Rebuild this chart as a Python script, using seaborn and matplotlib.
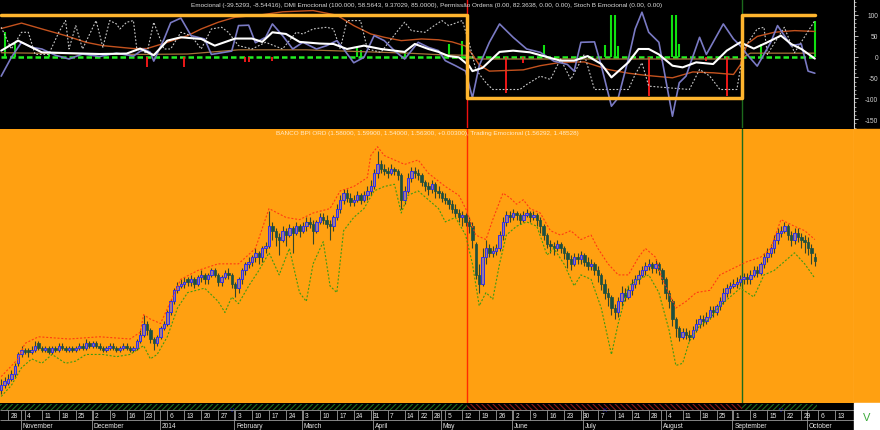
import numpy as np
import pandas as pd
import matplotlib
matplotlib.use("Agg")
import matplotlib.pyplot as plt
import matplotlib.patches as mpatches
import seaborn as sns

# ---------------- data ----------------
# BANCO BPI ORD, daily candles from 2013-10-24 to 2014-10-03
opens = [0.98, 1.00, 1.01, 1.03, 1.05, 1.10, 1.14, 1.16, 1.16, 1.15,
         1.16, 1.19, 1.17, 1.16, 1.17, 1.15, 1.17, 1.16, 1.18, 1.17,
         1.16, 1.17, 1.16, 1.17, 1.18, 1.17, 1.19, 1.18, 1.19, 1.18,
         1.17, 1.16, 1.17, 1.18, 1.17, 1.16, 1.17, 1.18, 1.17, 1.16,
         1.17, 1.20, 1.23, 1.28, 1.25, 1.21, 1.19, 1.22, 1.26, 1.28,
         1.33, 1.38, 1.43, 1.45, 1.46, 1.48, 1.47, 1.48, 1.46, 1.49,
         1.50, 1.48, 1.50, 1.52, 1.50, 1.47, 1.49, 1.51, 1.50, 1.46,
         1.44, 1.48, 1.52, 1.55, 1.56, 1.58, 1.60, 1.58, 1.62, 1.63,
         1.72, 1.70, 1.67, 1.66, 1.70, 1.68, 1.71, 1.69, 1.72, 1.70,
         1.72, 1.74, 1.73, 1.70, 1.74, 1.76, 1.75, 1.73, 1.72, 1.76,
         1.80, 1.84, 1.87, 1.85, 1.83, 1.84, 1.86, 1.84, 1.86, 1.88,
         1.90, 1.96, 2.00, 1.98, 1.97, 1.96, 1.98, 1.97, 1.95, 1.84,
         1.88, 1.94, 1.97, 1.96, 1.95, 1.92, 1.90, 1.89, 1.91, 1.88,
         1.87, 1.85, 1.84, 1.82, 1.80, 1.78, 1.76, 1.77, 1.74, 1.72,
         1.64, 1.50, 1.46, 1.58, 1.62, 1.60, 1.61, 1.62, 1.68, 1.74,
         1.77, 1.76, 1.78, 1.77, 1.75, 1.77, 1.78, 1.76, 1.77, 1.75,
         1.72, 1.68, 1.64, 1.63, 1.62, 1.64, 1.62, 1.60, 1.57, 1.55,
         1.58, 1.57, 1.59, 1.56, 1.54, 1.55, 1.52, 1.50, 1.46, 1.42,
         1.40, 1.35, 1.33, 1.38, 1.42, 1.40, 1.43, 1.46, 1.48, 1.50,
         1.52, 1.54, 1.55, 1.53, 1.55, 1.52, 1.48, 1.42, 1.38, 1.30,
         1.26, 1.22, 1.24, 1.23, 1.22, 1.25, 1.28, 1.30, 1.29, 1.31,
         1.34, 1.33, 1.36, 1.38, 1.42, 1.44, 1.45, 1.46, 1.47, 1.48,
         1.49, 1.48, 1.50, 1.52, 1.51, 1.55, 1.58, 1.60, 1.62, 1.66,
         1.69, 1.70, 1.72, 1.68, 1.66, 1.69, 1.67, 1.66, 1.65, 1.62, 1.58]
highs = [1.03, 1.04, 1.05, 1.07, 1.10, 1.15, 1.18, 1.17, 1.17, 1.18,
         1.20, 1.20, 1.18, 1.18, 1.18, 1.18, 1.18, 1.19, 1.19, 1.18,
         1.18, 1.18, 1.18, 1.19, 1.19, 1.21, 1.20, 1.20, 1.20, 1.19,
         1.18, 1.18, 1.19, 1.19, 1.18, 1.18, 1.19, 1.19, 1.18, 1.18,
         1.21, 1.25, 1.32, 1.29, 1.26, 1.22, 1.23, 1.27, 1.29, 1.34,
         1.39, 1.44, 1.47, 1.48, 1.49, 1.49, 1.50, 1.49, 1.50, 1.52,
         1.51, 1.51, 1.53, 1.53, 1.51, 1.50, 1.52, 1.53, 1.51, 1.47,
         1.49, 1.53, 1.56, 1.58, 1.59, 1.62, 1.61, 1.63, 1.65, 1.79,
         1.74, 1.71, 1.69, 1.72, 1.71, 1.73, 1.72, 1.74, 1.73, 1.74,
         1.76, 1.76, 1.75, 1.75, 1.78, 1.78, 1.77, 1.75, 1.77, 1.82,
         1.86, 1.89, 1.89, 1.87, 1.86, 1.88, 1.87, 1.88, 1.90, 1.93,
         1.98, 2.06, 2.02, 2.00, 1.99, 2.00, 1.99, 1.98, 1.96, 1.90,
         1.96, 1.99, 1.99, 1.98, 1.96, 1.93, 1.92, 1.93, 1.92, 1.90,
         1.88, 1.87, 1.85, 1.84, 1.82, 1.80, 1.79, 1.78, 1.76, 1.74,
         1.65, 1.55, 1.62, 1.66, 1.64, 1.63, 1.64, 1.70, 1.76, 1.79,
         1.79, 1.80, 1.79, 1.78, 1.79, 1.80, 1.79, 1.79, 1.78, 1.76,
         1.73, 1.69, 1.66, 1.65, 1.66, 1.65, 1.63, 1.61, 1.59, 1.60,
         1.60, 1.61, 1.60, 1.58, 1.57, 1.56, 1.54, 1.51, 1.48, 1.44,
         1.41, 1.37, 1.40, 1.45, 1.44, 1.45, 1.48, 1.50, 1.52, 1.54,
         1.56, 1.57, 1.56, 1.57, 1.56, 1.53, 1.49, 1.43, 1.39, 1.31,
         1.27, 1.26, 1.26, 1.25, 1.27, 1.30, 1.32, 1.32, 1.33, 1.36,
         1.36, 1.37, 1.40, 1.44, 1.46, 1.47, 1.48, 1.49, 1.50, 1.51,
         1.51, 1.52, 1.54, 1.54, 1.56, 1.60, 1.62, 1.64, 1.68, 1.71,
         1.72, 1.74, 1.73, 1.70, 1.71, 1.71, 1.69, 1.68, 1.67, 1.64, 1.599]
lows = [0.96, 0.99, 1.00, 1.02, 1.04, 1.09, 1.13, 1.14, 1.13, 1.14,
        1.15, 1.16, 1.15, 1.15, 1.14, 1.14, 1.15, 1.15, 1.16, 1.15,
        1.15, 1.15, 1.15, 1.16, 1.16, 1.16, 1.17, 1.17, 1.17, 1.16,
        1.15, 1.15, 1.16, 1.16, 1.15, 1.15, 1.16, 1.16, 1.15, 1.15,
        1.16, 1.19, 1.22, 1.23, 1.19, 1.16, 1.18, 1.21, 1.25, 1.27,
        1.32, 1.37, 1.42, 1.44, 1.44, 1.45, 1.45, 1.44, 1.45, 1.47,
        1.46, 1.46, 1.49, 1.49, 1.45, 1.45, 1.48, 1.48, 1.44, 1.40,
        1.42, 1.46, 1.50, 1.53, 1.54, 1.56, 1.55, 1.56, 1.60, 1.62,
        1.66, 1.63, 1.59, 1.65, 1.63, 1.67, 1.60, 1.68, 1.67, 1.69,
        1.70, 1.71, 1.64, 1.69, 1.73, 1.73, 1.71, 1.66, 1.70, 1.75,
        1.78, 1.82, 1.83, 1.81, 1.81, 1.83, 1.82, 1.83, 1.84, 1.86,
        1.89, 1.94, 1.96, 1.95, 1.94, 1.95, 1.95, 1.93, 1.80, 1.82,
        1.87, 1.92, 1.94, 1.93, 1.90, 1.88, 1.86, 1.87, 1.85, 1.85,
        1.83, 1.82, 1.80, 1.78, 1.76, 1.74, 1.72, 1.72, 1.69, 1.62,
        1.48, 1.42, 1.45, 1.55, 1.58, 1.58, 1.59, 1.61, 1.66, 1.72,
        1.74, 1.75, 1.75, 1.73, 1.74, 1.76, 1.74, 1.75, 1.72, 1.69,
        1.66, 1.62, 1.60, 1.59, 1.61, 1.60, 1.57, 1.53, 1.52, 1.54,
        1.55, 1.55, 1.54, 1.52, 1.52, 1.50, 1.47, 1.43, 1.39, 1.36,
        1.32, 1.30, 1.31, 1.36, 1.38, 1.39, 1.41, 1.44, 1.46, 1.49,
        1.50, 1.52, 1.51, 1.51, 1.50, 1.46, 1.39, 1.35, 1.27, 1.22,
        1.20, 1.21, 1.21, 1.20, 1.21, 1.24, 1.26, 1.27, 1.28, 1.30,
        1.31, 1.32, 1.34, 1.37, 1.40, 1.42, 1.44, 1.44, 1.45, 1.46,
        1.46, 1.46, 1.49, 1.49, 1.50, 1.53, 1.56, 1.58, 1.60, 1.64,
        1.67, 1.69, 1.66, 1.63, 1.64, 1.65, 1.62, 1.60, 1.59, 1.55, 1.54]
closes = [1.00, 1.02, 1.03, 1.05, 1.09, 1.14, 1.16, 1.15, 1.15, 1.16,
          1.18, 1.17, 1.16, 1.17, 1.15, 1.17, 1.16, 1.18, 1.17, 1.16,
          1.17, 1.16, 1.17, 1.18, 1.17, 1.19, 1.18, 1.19, 1.18, 1.17,
          1.16, 1.17, 1.18, 1.17, 1.16, 1.17, 1.18, 1.17, 1.16, 1.17,
          1.20, 1.23, 1.28, 1.25, 1.21, 1.19, 1.22, 1.26, 1.28, 1.33,
          1.38, 1.43, 1.45, 1.46, 1.47, 1.47, 1.48, 1.46, 1.49, 1.50,
          1.48, 1.50, 1.52, 1.50, 1.47, 1.49, 1.51, 1.50, 1.46, 1.44,
          1.48, 1.52, 1.55, 1.56, 1.58, 1.60, 1.58, 1.62, 1.63, 1.72,
          1.70, 1.67, 1.66, 1.70, 1.68, 1.71, 1.69, 1.72, 1.70, 1.72,
          1.74, 1.73, 1.70, 1.74, 1.76, 1.75, 1.73, 1.72, 1.76, 1.80,
          1.84, 1.87, 1.85, 1.83, 1.84, 1.86, 1.84, 1.86, 1.88, 1.90,
          1.96, 2.00, 1.98, 1.97, 1.96, 1.98, 1.97, 1.95, 1.84, 1.88,
          1.94, 1.97, 1.96, 1.95, 1.92, 1.90, 1.89, 1.91, 1.88, 1.87,
          1.85, 1.84, 1.82, 1.80, 1.78, 1.76, 1.77, 1.74, 1.72, 1.66,
          1.50, 1.46, 1.58, 1.62, 1.60, 1.61, 1.62, 1.68, 1.74, 1.77,
          1.76, 1.78, 1.77, 1.75, 1.77, 1.78, 1.76, 1.77, 1.75, 1.72,
          1.68, 1.64, 1.63, 1.62, 1.64, 1.62, 1.60, 1.57, 1.55, 1.58,
          1.57, 1.59, 1.56, 1.54, 1.55, 1.52, 1.50, 1.46, 1.42, 1.40,
          1.35, 1.33, 1.38, 1.42, 1.40, 1.43, 1.46, 1.48, 1.50, 1.52,
          1.54, 1.55, 1.53, 1.55, 1.52, 1.48, 1.42, 1.38, 1.30, 1.26,
          1.22, 1.24, 1.23, 1.22, 1.25, 1.28, 1.30, 1.29, 1.31, 1.34,
          1.33, 1.36, 1.38, 1.42, 1.44, 1.45, 1.46, 1.47, 1.48, 1.49,
          1.48, 1.50, 1.52, 1.51, 1.55, 1.58, 1.60, 1.62, 1.66, 1.69,
          1.70, 1.72, 1.68, 1.66, 1.69, 1.67, 1.66, 1.65, 1.62, 1.60, 1.563]

# Trading Emocional bands (upper red, lower green), by bar index
band_up_days = [0, 5, 7, 11, 20, 29, 38, 41, 42, 44, 47, 50, 53, 58, 64, 70, 75, 79,
                84, 88, 92, 97, 100, 104, 108, 109, 111, 113, 116, 119, 121, 123, 126,
                131, 135, 137, 140, 143, 145, 148, 150, 152, 154, 156, 159, 162, 165,
                168, 171, 174, 176, 179, 182, 185, 188, 190, 193, 195, 199, 202, 205,
                209, 212, 216, 220, 224, 227, 230, 234, 237, 240]
band_up = [1.04, 1.12, 1.19, 1.22, 1.21, 1.22, 1.21, 1.24, 1.32, 1.30, 1.28, 1.38, 1.48,
           1.52, 1.55, 1.55, 1.62, 1.80, 1.76, 1.75, 1.78, 1.80, 1.88, 1.90, 1.94, 2.04,
           2.08, 2.04, 2.02, 2.00, 2.01, 2.02, 1.96, 1.90, 1.86, 1.80, 1.68, 1.66, 1.75,
           1.87, 1.85, 1.82, 1.84, 1.80, 1.78, 1.70, 1.68, 1.70, 1.66, 1.68, 1.62, 1.55,
           1.50, 1.50, 1.58, 1.62, 1.58, 1.48, 1.35, 1.38, 1.42, 1.43, 1.50, 1.53, 1.56,
           1.58, 1.62, 1.75, 1.72, 1.70, 1.66]
band_dn_days = [0, 3, 6, 9, 12, 15, 19, 22, 25, 30, 34, 38, 42, 44, 46, 49, 52, 55, 60,
                64, 66, 68, 70, 73, 76, 79, 82, 85, 88, 90, 92, 95, 97, 99, 101, 104,
                107, 110, 113, 116, 118, 120, 123, 126, 129, 131, 134, 137, 139, 141,
                143, 145, 147, 149, 152, 155, 158, 161, 163, 166, 169, 171, 174, 177,
                180, 182, 185, 188, 191, 194, 197, 199, 201, 203, 206, 209, 212, 215,
                218, 220, 222, 225, 228, 231, 234, 237, 240]
band_dn = [0.95, 1.00, 1.08, 1.12, 1.10, 1.14, 1.10, 1.11, 1.14, 1.14, 1.13, 1.14, 1.18,
           1.12, 1.14, 1.22, 1.35, 1.42, 1.44, 1.38, 1.33, 1.40, 1.37, 1.45, 1.52, 1.60,
           1.50, 1.62, 1.42, 1.38, 1.55, 1.65, 1.45, 1.42, 1.70, 1.76, 1.80, 1.88, 1.90,
           1.91, 1.78, 1.86, 1.88, 1.84, 1.80, 1.74, 1.76, 1.68, 1.55, 1.36, 1.42, 1.39,
           1.55, 1.68, 1.72, 1.74, 1.72, 1.59, 1.62, 1.55, 1.45, 1.50, 1.48, 1.35, 1.14,
           1.28, 1.45, 1.48, 1.50, 1.42, 1.25, 1.09, 1.10, 1.20, 1.27, 1.30, 1.36, 1.40,
           1.44, 1.42, 1.40, 1.50, 1.52, 1.56, 1.60, 1.55, 1.485]

# Emocional (lavender)
emo_days = [0, 3, 6, 9, 12, 16, 20, 24, 29, 34, 39, 42, 44, 45, 48, 50, 53, 56, 60, 62,
            68, 70, 73, 75, 78, 80, 83, 86, 89, 93, 96, 99, 101, 104, 107, 110, 113,
            116, 119, 123, 126, 129, 131, 134, 137, 139, 141, 144, 147, 151, 155, 159,
            163, 167, 169, 171, 175, 177, 180, 182, 185, 187, 189, 191, 194, 198, 200,
            202, 206, 208, 213, 216, 218, 220, 223, 227, 229, 233, 236, 238, 240]
emo_vals = [-47, -2, 34, 22, 18, 3, -6, 6, 0, 8, 1, 18, 10, -11, 41, 81, 92, 50, 42, 5,
            13, 74, 75, 33, 46, 78, 50, 18, 34, 18, 26, 38, 18, -15, -2, 50, 38, 14, -6,
            34, 22, 14, -10, -22, -35, -99, -22, 34, 78, 46, 18, 10, -11, -19, -35, 34,
            35, -22, -119, -99, -6, 66, 106, 58, 34, -143, -63, -47, 46, 5, 78, 42, 26, 5,
            -23, 34, 74, 26, 30, -35, -40]
# Emocional signal (white)
white_days = [0, 5, 9, 12, 20, 29, 37, 41, 45, 49, 53, 59, 63, 69, 74, 77, 80, 84, 88,
              94, 98, 102, 107, 112, 116, 119, 122, 126, 129, 132, 135, 138, 139, 142,
              147, 151, 156, 160, 165, 169, 173, 177, 180, 185, 188, 191, 194, 198, 201,
              205, 210, 214, 218, 222, 226, 230, 233, 236, 240]
white_vals = [14, 38, 22, 10, 8, 6, 7, 19, 3, 38, 46, 42, 26, 43, 43, 35, 58, 54, 35, 31,
              30, 18, 26, 18, 14, 11, 30, 18, 11, 1, -2, -22, -35, -27, 11, 14, 10, 1,
              -10, -10, 1, -18, -50, -14, 18, 18, 5, -22, -26, -14, -18, 14, 34, 19, 34,
              50, 30, 18, -5]
# Stoch B Emocional (grey dotted)
stoch_days = [0, 3, 6, 8, 10, 14, 17, 19, 20, 22, 24, 28, 30, 32, 34, 35, 37, 39, 40,
              43, 45, 48, 50, 53, 56, 59, 62, 65, 67, 70, 74, 78, 83, 87, 89, 92, 96, 98,
              100, 102, 106, 108, 112, 117, 119, 121, 125, 127, 130, 132, 136, 138, 140,
              143, 145, 153, 155, 159, 162, 165, 168, 172, 175, 185, 187, 189, 191, 203,
              206, 209, 212, 217, 219, 223, 225, 226, 231, 234, 240]
stoch_vals = [70, 18, 58, 58, 5, 5, 58, 86, 18, 74, 18, 86, 22, 86, 78, 66, 82, 86, 18,
              8, 82, 18, 18, 58, 50, 18, 66, 70, 58, 26, 18, 34, 18, 58, 54, 66, 70, 66,
              18, 86, 86, 18, 10, 62, 82, 62, 58, 70, 86, 74, 86, 34, -31, -63, -79, -79,
              -67, -47, -55, -6, -55, 5, -79, -79, -43, -15, -71, -79, -31, -47, -79, -79,
              18, 66, 70, 5, 70, 9, 86]
# DMI Emocional (dark orange and tan lines)
dmi_days = [0, 6, 12, 19, 25, 30, 39, 43, 49, 55, 59, 64, 69, 76, 83, 92, 99, 104, 109,
            113, 118, 124, 129, 133, 137, 139, 141, 144, 154, 159, 165, 172, 179, 185,
            190, 198, 204, 210, 216, 218, 220, 223, 228, 234, 240]
dmi_vals = [67, 80, 66, 50, 34, 26, 19, 19, 34, 50, 66, 82, 94, 99, 107, 110, 99, 74, 54,
            46, 38, 42, 40, 35, 25, 5, -20, -35, -32, -22, -14, -13, -31, -40, -45, -51,
            -37, -39, -43, -20, 30, 48, 58, 62, 60]
tan_days = [0, 40, 55, 70, 90, 105, 120, 130, 137, 140, 218, 221, 240]
tan_vals = [9, 5, 6, 16, 16, 12, 8, 4, 3, -6, -6, 8, 8]
# Permissao Ordens: +100 / -100 regime, histogram of order bars
perm_days = [0, 137.5, 218.5, 240]
perm_vals = [100, -100, 100, 100]
hist_days = [1, 4, 14, 43, 54, 72, 73, 80, 105, 106, 119, 132, 136, 149, 154, 160, 178,
             180, 181, 182, 191, 195, 198, 199, 200, 208, 214, 224, 240]
hist_vals = [58, 33, 10, -26, -26, -12, -12, -10, 22, 15, 12, 30, 37, -87, -15, 27, 27,
             100, 100, 25, -95, -10, 100, 100, 30, -10, -95, 30, 85]

signal_days = [137.5, 218.5]
strip_marks = ["V", "X", "V"]
strip_mark_days = [68, 178, 230]

top_title = ("Emocional (-39.5293, -8.54416), DMI Emocional (100.000, 58.5643, 9.37029, "
             "85.0000), Permissão Ordens (0.00, 82.3638, 0.00, 0.00), "
             "Stoch B Emocional (0.00, 0.00)")
price_title = ("BANCO BPI ORD (1.58000, 1.59900, 1.54000, 1.56300, +0.00300), "
               "Trading Emocional (1.56292, 1.48528)")

# trading calendar (Euronext Lisbon)
holidays = pd.to_datetime(["2013-12-25", "2013-12-26", "2014-01-01",
                           "2014-04-18", "2014-04-21", "2014-05-01"])
cal = pd.bdate_range("2013-10-24", "2014-10-17")
cal = cal[~cal.isin(holidays)]
skip_week_labels = pd.to_datetime(["2013-12-30"])

# ---------------- style ----------------
sns.set_style("dark")
plt.rcParams["font.family"] = ["Liberation Sans", "DejaVu Sans"]
plt.rcParams["axes.unicode_minus"] = False
plt.rcParams["hatch.linewidth"] = 0.8

orange = "#FFA011"
W, H = 880, 431
XLIM = (-0.35, 251.55)


def frame(x0, y0, x1, y1):
    return [x0 / W, 1 - y1 / H, (x1 - x0) / W, (y1 - y0) / H]


fig = plt.figure(figsize=(8.8, 4.31), dpi=100, facecolor="black")
ax_top = fig.add_axes(frame(0, 0, 854, 128.5))
ax_px = fig.add_axes(frame(0, 129.5, 854, 404.3))
ax_dt = fig.add_axes(frame(0, 404.3, 854, 431))

fig.patches.append(mpatches.Rectangle((854 / W, 1 - 404.3 / H), 26 / W, 274.8 / H,
                                      transform=fig.transFigure, color=orange, zorder=0))
fig.patches.append(mpatches.Rectangle((854 / W, 0), 26 / W, 26.7 / H,
                                      transform=fig.transFigure, color="white", zorder=0))
fig.text(867 / W, 1 - 418 / H, "V", color="#3CAA3C", fontsize=8, ha="center", va="center")


def right_axis(ax, color, major, minor, fmt):
    for s in ["left", "top", "bottom"]:
        ax.spines[s].set_visible(False)
    ax.spines["right"].set_color(color)
    ax.spines["right"].set_linewidth(0.8)
    ax.yaxis.tick_right()
    ax.set_yticks(major)
    ax.set_yticks(minor, minor=True)
    ax.set_yticklabels([fmt(v) for v in major])
    ax.tick_params(axis="y", which="major", direction="out", length=3, width=0.6,
                   colors=color, labelsize=4.8, pad=14.5, right=True)
    ax.tick_params(axis="y", which="minor", direction="out", length=1.5, width=0.5,
                   colors=color, right=True)
    for lab in ax.get_yticklabels():
        lab.set_horizontalalignment("right")
    ax.set_xticks([])
    ax.set_xlabel("")
    ax.set_ylabel("")
    ax.set_xlim(*XLIM)
    ax.grid(False)


def line(ax, days, vals, **kw):
    sns.lineplot(x=days, y=vals, ax=ax, estimator=None, sort=False, **kw)


# ---------------- top panel ----------------
ax = ax_top
ax.set_facecolor("black")
last = len(closes) - 1
ax.hlines(0, 0, last, color="#22EE22", lw=1.8, linestyles=(0, (2.2, 1.2)), zorder=2)
hd = np.array(hist_days)
hv = np.array(hist_vals)
ax.vlines(hd[hv > 0], 0, hv[hv > 0], color="#10E010", lw=1.5, zorder=3)
ax.vlines(hd[hv < 0], 0, hv[hv < 0], color="#FF1A1A", lw=1.3, zorder=3)
line(ax, tan_days, tan_vals, color="#A8743A", lw=0.9, zorder=3)
line(ax, dmi_days, dmi_vals, color="#C4521E", lw=1.0, zorder=3)
line(ax, stoch_days, stoch_vals, color="#C8C8C8", lw=0.8, linestyle=(0, (1.6, 1.6)), zorder=4)
line(ax, emo_days, emo_vals, color="#7A7AC4", lw=1.2, zorder=4)
line(ax, white_days, white_vals, color="white", lw=1.5, zorder=5)
line(ax, perm_days, perm_vals, color="#FFB52E", lw=2.5, drawstyle="steps-post", zorder=6)
ax.axvline(signal_days[0], color="#F01010", lw=1.0, zorder=1)
ax.axvline(signal_days[1], color="#1C6A1C", lw=1.0, zorder=1)
ax.set_ylim(-170, 137.7)
right_axis(ax, "#D4D4D4", [100, 50, 0, -50, -100, -150], np.arange(-170, 131, 10),
           lambda v: f"{v:d}")
ax.text(0.5, 1 - 5.5 / 128.5, top_title, transform=ax.transAxes, ha="center",
        va="center", fontsize=4.6, color="#DCDCDC")

# ---------------- price panel ----------------
ax = ax_px
ax.set_facecolor(orange)
o, h, l, c = (np.array(v) for v in (opens, highs, lows, closes))
x = np.arange(len(c))
up = c >= o
ax.vlines(x, l, h, color="#34452A", lw=0.8, zorder=2)
body_up = np.maximum(c[up] - o[up], 0.004)
body_dn = np.maximum(o[~up] - c[~up], 0.004)
ax.bar(x[up], body_up, bottom=o[up], width=0.72, color="#A07C8E", edgecolor="#3030E8",
       linewidth=0.7, zorder=3)
ax.bar(x[~up], body_dn, bottom=c[~up], width=0.72, color="#1D4F3F", edgecolor="#1D4F3F",
       linewidth=0.5, zorder=3)
line(ax, band_up_days, band_up, color="#FF3A12", lw=0.8, linestyle=(0, (1.8, 1.6)), zorder=4)
line(ax, band_dn_days, band_dn, color="#3C9A14", lw=0.8, linestyle=(0, (1.8, 1.6)), zorder=4)
ax.axvline(signal_days[0], color="#FF2A00", lw=1.0, zorder=1)
ax.axvline(signal_days[1], color="#1C6A1C", lw=1.0, zorder=1)
ax.set_ylim(0.919, 2.1624)
right_axis(ax, "#FFEBCB", np.round(np.arange(0.95, 2.101, 0.05), 2),
           np.round(np.arange(0.92, 2.161, 0.01), 2), lambda v: f"{v:.2f}")
ax.text(0.5, 1 - 4.5 / 274.8, price_title, transform=ax.transAxes, ha="center",
        va="center", fontsize=4.6, color="#FFEBCB")

# ---------------- date strip ----------------
ax = ax_dt
ax.set_facecolor("black")
ax.set_xlim(*XLIM)
ax.set_ylim(0, 26.7)
ax.set_axis_off()
ax.add_patch(mpatches.Rectangle((XLIM[0], 0), XLIM[1] - XLIM[0], 26.7,
                                color="black", zorder=0))
regions = [(XLIM[0], signal_days[0], "#1E6A1E", "//////"),
           (signal_days[0], signal_days[1], "#8A1A1A", "\\\\\\\\\\\\"),
           (signal_days[1], last + 0.5, "#1E6A1E", "//////")]
for a, b, col, hatch in regions:
    ax.fill_between([a, b], 20.3, 26.2, facecolor="black", edgecolor=col, hatch=hatch,
                    linewidth=0, zorder=1)
for d, m in zip(strip_mark_days, strip_marks):
    ax.text(d, 20.5, m, color="#1818C0", fontsize=4.5, ha="center", va="center", zorder=2)

grey = "#9A9A9A"
ax.hlines([19.6, 10.2], XLIM[0], XLIM[1], color=grey, lw=0.6)
prev = None
for i, d in enumerate(cal):
    if i == 0:
        prev = d
        continue
    if d.weekday() < prev.weekday():
        ax.vlines(i, 10.2, 19.6, color=grey, lw=0.6)
        if d not in skip_week_labels:
            ax.text(i + 0.7, 14.9, str(d.day), color="#E6E6E6", fontsize=4.8,
                    ha="left", va="center")
    if d.month != prev.month:
        ax.vlines(i - 0.3, 0, 19.6, color=grey, lw=0.6)
        name = str(d.year) if d.month == 1 else d.strftime("%B")
        ax.text(i + 0.3, 4.9, name, color="#E6E6E6", fontsize=4.8, ha="left", va="center")
    prev = d

fig.savefig("out.png", dpi=100, facecolor=fig.get_facecolor())
